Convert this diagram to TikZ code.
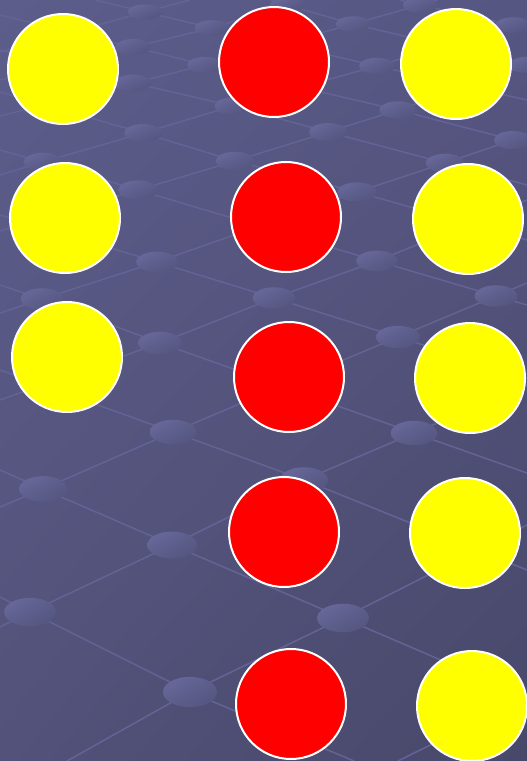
\documentclass[tikz,border=0pt]{standalone}
\usetikzlibrary{positioning,shadings}
\definecolor{bgul}{RGB}{93,93,140}
\definecolor{bgur}{RGB}{86,86,130}
\definecolor{bgll}{RGB}{82,82,122}
\definecolor{bglr}{RGB}{72,72,106}
\definecolor{wirecol}{RGB}{99,99,150}
\definecolor{beadhi}{RGB}{106,106,158}
\definecolor{beadmid}{RGB}{94,94,140}
\definecolor{beadlo}{RGB}{82,82,124}
\definecolor{ballyellow}{RGB}{255,255,0}
\definecolor{ballred}{RGB}{255,0,0}
\tikzset{
  wire/.style={wirecol,line width=1.5pt,line join=round},
  bead/.style={upper left=beadhi,upper right=beadmid,lower left=beadmid,lower right=beadlo},
  ball/.style={circle,minimum size=110pt,inner sep=0pt,draw=white,line width=2pt},
  yball/.style={ball,fill=ballyellow},
  rball/.style={ball,fill=ballred}
}

\begin{document}
\begin{tikzpicture}[x=1pt,y=-1pt]
\useasboundingbox (0,0) rectangle (527,761);
\clip (0,0) rectangle (527,761);
\shade[upper left=bgul,upper right=bgur,lower left=bgll,lower right=bglr] (0,0) rectangle (527,761);
% lattice, lines rising to the right
\foreach \w in {
  {(67,761)--(190,692)--(343,618)--(527,525)},
  {(398,761)--(527,697)},
  {(0,627)--(30,612)--(172,545)--(304,480)--(414,433)--(527,385)},
  {(0,507)--(43,489)--(173,432)--(398,337)--(496,296)--(527,283)},
  {(0,400)--(160,343)--(274,298)--(377,261)--(527,200)},
  {(0,313)--(42,299)--(157,262)--(357,192)--(445,163)--(513,140)--(527,135)},
  {(0,231)--(138,190)--(235,161)--(328,132)--(398,110)--(527,65)},
  {(0,175)--(43,162)--(143,133)--(233,106)--(377,66)--(513,25)--(527,21)},
  {(0,116)--(133,83)--(205,65)--(353,24)--(420,5)--(437,0)},
  {(0,80)--(133,47)--(212,28)--(287,5)--(300,0)},
  {(0,52)--(145,12)--(190,0)}}
  \draw[wire] \w;
% lattice, lines falling to the right
\foreach \w in {
  {(0,597)--(30,612)--(190,692)--(354,761)},
  {(0,470)--(43,489)--(172,545)--(343,618)--(527,697)},
  {(0,370)--(173,432)--(304,480)--(527,570)},
  {(0,285)--(42,299)--(160,343)--(414,433)--(527,473)},
  {(0,215)--(157,262)--(274,298)--(398,337)--(527,378)},
  {(0,150)--(43,162)--(138,190)--(377,261)--(496,296)--(527,305)},
  {(0,92)--(143,133)--(235,161)--(357,192)--(527,240)},
  {(0,50)--(133,83)--(233,106)--(328,132)--(445,163)--(527,185)},
  {(0,15)--(133,47)--(205,65)--(398,110)--(513,140)--(527,143)},
  {(95,0)--(145,12)--(212,28)--(377,66)--(527,100)},
  {(270,0)--(287,5)--(353,24)--(527,65)},
  {(400,0)--(420,5)--(513,25)--(527,28)}}
  \draw[wire] \w;
% beads at the crossings
\foreach \x/\y in {145/12,212/28,287/5,420/5,353/24,513/25,527/65,133/47,205/65,
  133/83,233/106,377/66,398/110,328/132,513/140,143/133,43/162,235/161,445/163,
  138/190,357/192,157/262,377/261,42/299,274/298,496/296,160/343,398/337,
  173/432,414/433,304/480,43/489,172/545,30/612,343/618,190/692}{
  \pgfmathsetmacro\rx{17+0.0145*\y}
  \pgfmathsetmacro\ry{7.5+0.011*\y}
  \shade[bead] (\x,\y) ellipse [x radius=\rx pt,y radius=\ry pt];
}
% balls
\foreach \x/\y [count=\i] in {63/69,65/218,67/357,456/64,468/219,470/378,465/533,472/706}
  \node[yball] (y\i) at (\x,\y) {};
\foreach \x/\y [count=\i] in {274/62,286/217,289/377,284/532,291/704}
  \node[rball] (r\i) at (\x,\y) {};
\end{tikzpicture}
\end{document}
